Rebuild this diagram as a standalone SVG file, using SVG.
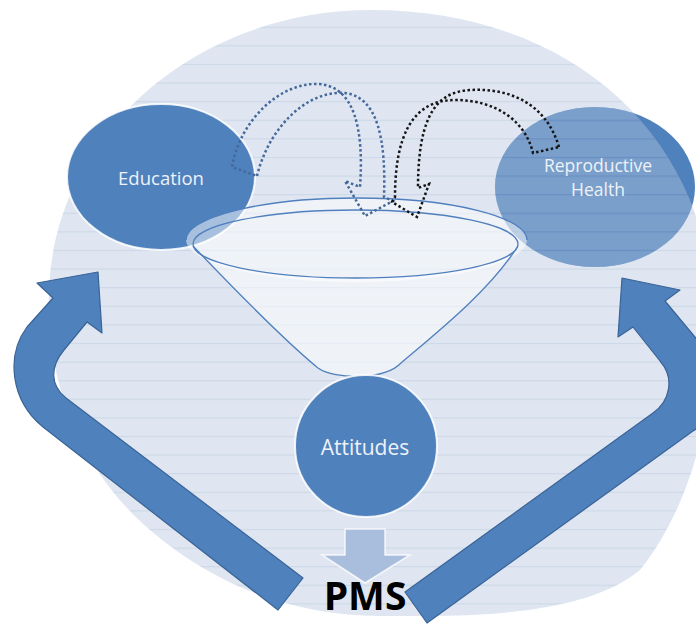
<svg xmlns="http://www.w3.org/2000/svg" xmlns:xlink="http://www.w3.org/1999/xlink" width="696" height="626" viewBox="0 0 696 626">
  <defs>
    <style>
      .node { fill: #4f81bd; stroke: #ffffff; stroke-width: 2; stroke-opacity: 0.85; }
      .label { font-family: "Open Sans", "Liberation Sans", sans-serif; fill: #eef2f8; text-anchor: middle; }
      .bigarrow { fill: #4f81bd; stroke: #3a6396; stroke-width: 1.2; stroke-linejoin: round; }
      .funnel-line { fill: none; stroke: #4f7fbd; stroke-width: 1.3; }
      .dots { fill: none; stroke-width: 2.5; stroke-dasharray: 2.5 2.5; stroke-linejoin: miter; }
    </style>
    <path id="bgshape" d="M371,10 C520,10 640,80 690,200 C730,300 720,470 640,570 C580,620 450,616 380,616 C300,616 220,590 150,530 C80,470 45,380 49,290 C55,130 200,10 371,10 Z"/>
    <pattern id="stripes" patternUnits="userSpaceOnUse" x="0" y="8.1" width="10" height="18.6">
      <rect x="0" y="0" width="10" height="18.6" fill="#b4c6de"/>
      <rect x="0" y="0" width="10" height="1.2" fill="#8ba4c9"/>
    </pattern>
    <clipPath id="bgclip">
      <use xlink:href="#bgshape"/>
    </clipPath>
  </defs>

  <g id="background">
    <use xlink:href="#bgshape" fill="url(#stripes)" opacity="0.43"/>
  </g>

  <g id="node-reproductive-health">
    <ellipse cx="595" cy="187" rx="100" ry="80" fill="#4f81bd"/>
    <ellipse cx="595" cy="187" rx="100" ry="80" fill="url(#stripes)" opacity="0.43" clip-path="url(#bgclip)"/>
    <text class="label" x="598" y="172" font-size="17.5">Reproductive</text>
    <text class="label" x="598" y="196" font-size="17.5">Health</text>
  </g>

  <g id="node-education">
    <ellipse class="node" cx="161" cy="177" rx="94" ry="73"/>
    <text class="label" x="161" y="185" font-size="18.5">Education</text>
  </g>

  <g id="node-funnel">
    <ellipse cx="356.5" cy="240" rx="170.5" ry="42" fill="#ffffff" fill-opacity="0.5"/>
    <path d="M193,244 C235,290 290,345 318,368 C335,380 385,380 401,363 C440,330 490,290 518,244 A162.5,34 0 1 1 193,244 Z" fill="#ffffff" fill-opacity="0.5"/>
    <path class="funnel-line" d="M193,246 C235,290 290,345 318,368 C335,380 385,380 401,363 C440,330 490,290 518,246"/>
    <path class="funnel-line" d="M186,240 A170.5,42 0 0 1 527,240"/>
    <ellipse class="funnel-line" cx="355.5" cy="244" rx="162.5" ry="34"/>
  </g>

  <g id="node-attitudes">
    <circle class="node" cx="366" cy="446" r="71"/>
    <text class="label" x="365" y="455" font-size="21">Attitudes</text>
  </g>

  <g id="connectors">
    <path id="arrow-left" class="bigarrow" d="M278,610 L43,427 C10,400 6,355 27,327 L53,298 L37,283 L98,272 L102,333 L87,322 L64,350 C50,367 50,385 66,398 L303,578 Z"/>
    <path id="arrow-right" class="bigarrow" d="M427,623 L693,431 C722,413 725,373 700,343 L665,301 L680,290 L622,278 L618,337 L633,327 L660,361 C675,378 670,401 653,413 L405,592 Z"/>
    <path id="arrow-down" d="M345,529 H385 V555 H410 L365,583 L322,555 H345 Z" fill="#a8bedc" stroke="#ffffff" stroke-width="1.5" stroke-opacity="0.8"/>
    <path id="dotted-education" class="dots" stroke="#45689a" d="M257,176 C268,130 305,90 345,93 C378,97 386,140 384,197 L393,201 L365,216 L345,181 L360,187 C364,130 355,85 317,84 C280,83 240,120 232,167 Z"/>
    <path id="dotted-reproductive" class="dots" stroke="#151515" d="M559,147 C545,100 505,88 470,90 C440,92 418,110 418,188 L429,184 L417,217 L392,202 L395,197 C395,140 410,100 455,100 C495,100 525,120 533,153 Z"/>
  </g>

  <g id="node-pms">
    <text x="365" y="610" font-family="'Open Sans', 'Liberation Sans', sans-serif" font-weight="700" font-size="39" fill="#000000" text-anchor="middle">PMS</text>
  </g>
</svg>
